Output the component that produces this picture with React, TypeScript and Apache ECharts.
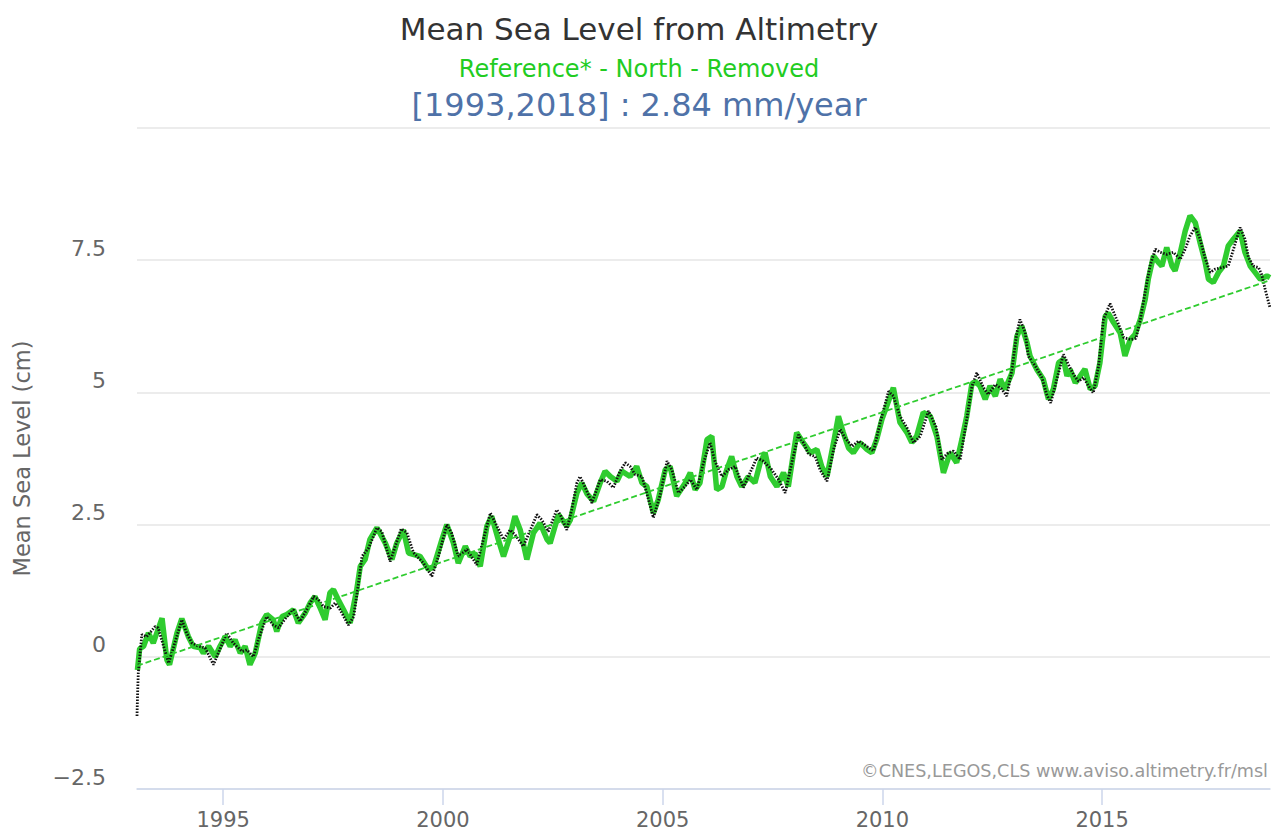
import React, { useEffect, useRef } from "react";
import * as echarts from "echarts";

const titleText = "Mean Sea Level from Altimetry";
const subtitleText = "Reference* - North - Removed";
const rateText = "[1993,2018] : 2.84 mm/year";
const creditText = "©CNES,LEGOS,CLS www.aviso.altimetry.fr/msl";
const yAxisName = "Mean Sea Level (cm)";
const xTickYears = [1995, 2000, 2005, 2010, 2015];

// black dotted series [year, cm]
const blackData: [number, number][] = [
  [1993.04, -1.12], [1993.05, -0.8], [1993.06, -0.53], [1993.07, -0.3], [1993.15, 0.42], [1993.26, 0.38],
  [1993.45, 0.57], [1993.52, 0.55], [1993.76, -0.12], [1994.06, 0.7], [1994.17, 0.45], [1994.29, 0.26],
  [1994.44, 0.2], [1994.59, 0.17], [1994.78, -0.15], [1995.08, 0.45], [1995.23, 0.26], [1995.43, 0.1],
  [1995.54, 0.13], [1995.69, 0.0], [1995.8, 0.32], [1995.99, 0.76], [1996.14, 0.6], [1996.26, 0.55],
  [1996.45, 0.76], [1996.6, 0.89], [1996.75, 0.67], [1996.9, 0.89], [1997.06, 1.14], [1997.17, 1.08],
  [1997.28, 0.95], [1997.44, 0.92], [1997.55, 1.02], [1997.66, 0.89], [1997.85, 0.6], [1997.97, 0.76],
  [1998.08, 1.39], [1998.16, 1.9], [1998.31, 2.06], [1998.5, 2.44], [1998.61, 2.37], [1998.8, 1.8],
  [1999.05, 2.42], [1999.18, 2.35], [1999.33, 1.97], [1999.56, 1.77], [1999.75, 1.52], [1999.9, 1.9],
  [2000.09, 2.5], [2000.2, 2.34], [2000.35, 1.9], [2000.55, 2.03], [2000.77, 1.74], [2000.96, 2.34],
  [2001.08, 2.72], [2001.23, 2.47], [2001.38, 2.22], [2001.53, 2.4], [2001.64, 2.31], [2001.83, 2.09],
  [2001.99, 2.4], [2002.14, 2.69], [2002.25, 2.59], [2002.4, 2.37], [2002.59, 2.78], [2002.67, 2.69],
  [2002.82, 2.4], [2002.93, 2.78], [2003.05, 3.29], [2003.12, 3.41], [2003.24, 3.2], [2003.39, 2.91],
  [2003.58, 3.35], [2003.73, 3.32], [2003.88, 3.2], [2004.03, 3.51], [2004.15, 3.67], [2004.26, 3.6],
  [2004.37, 3.45], [2004.53, 3.41], [2004.68, 2.97], [2004.79, 2.63], [2004.94, 3.05], [2005.1, 3.7],
  [2005.21, 3.54], [2005.36, 3.1], [2005.51, 3.22], [2005.63, 3.35], [2005.78, 3.16], [2005.93, 3.67],
  [2006.08, 4.05], [2006.19, 3.7], [2006.35, 3.41], [2006.5, 3.54], [2006.65, 3.6], [2006.84, 3.2],
  [2006.99, 3.48], [2007.14, 3.76], [2007.29, 3.7], [2007.48, 3.54], [2007.64, 3.35], [2007.79, 3.1],
  [2007.94, 3.67], [2008.09, 4.2], [2008.2, 4.05], [2008.32, 3.83], [2008.47, 3.79], [2008.58, 3.54],
  [2008.74, 3.32], [2008.89, 3.92], [2009.04, 4.3], [2009.15, 4.14], [2009.31, 3.98], [2009.46, 4.08],
  [2009.61, 4.0], [2009.8, 3.89], [2009.95, 4.43], [2010.14, 5.02], [2010.25, 4.93], [2010.4, 4.55],
  [2010.56, 4.33], [2010.71, 4.05], [2010.86, 4.17], [2011.05, 4.65], [2011.22, 4.35], [2011.35, 3.73],
  [2011.5, 3.86], [2011.62, 3.89], [2011.77, 3.73], [2011.92, 4.49], [2012.04, 5.12], [2012.15, 5.37],
  [2012.3, 5.09], [2012.41, 4.96], [2012.57, 5.15], [2012.72, 5.06], [2012.83, 4.93], [2012.95, 5.44],
  [2013.06, 6.13], [2013.13, 6.38], [2013.25, 6.13], [2013.32, 5.69], [2013.48, 5.5], [2013.63, 5.28],
  [2013.74, 4.96], [2013.83, 4.8], [2013.97, 5.25], [2014.12, 5.72], [2014.23, 5.53], [2014.35, 5.34],
  [2014.46, 5.21], [2014.58, 5.28], [2014.69, 5.12], [2014.8, 4.99], [2014.92, 5.5], [2015.03, 6.38],
  [2015.18, 6.68], [2015.33, 6.38], [2015.49, 6.04], [2015.64, 6.0], [2015.77, 6.02], [2015.87, 6.38],
  [2015.98, 6.9], [2016.09, 7.39], [2016.21, 7.71], [2016.32, 7.65], [2016.47, 7.61], [2016.62, 7.65],
  [2016.78, 7.52], [2016.89, 7.71], [2017.0, 7.96], [2017.12, 8.12], [2017.23, 7.9], [2017.34, 7.55],
  [2017.46, 7.27], [2017.57, 7.33], [2017.72, 7.36], [2017.87, 7.39], [2017.99, 7.71], [2018.14, 8.12],
  [2018.25, 7.9], [2018.33, 7.55], [2018.44, 7.39], [2018.56, 7.36], [2018.63, 7.23], [2018.71, 6.95],
  [2018.82, 6.6],
];

// green thick series [year, cm]
const greenData: [number, number][] = [
  [1993.05, -0.25], [1993.1, 0.15], [1993.19, 0.2], [1993.3, 0.45], [1993.41, 0.26], [1993.61, 0.73],
  [1993.72, -0.06], [1993.78, -0.15], [1993.95, 0.45], [1994.06, 0.72], [1994.21, 0.38], [1994.32, 0.2],
  [1994.48, 0.17], [1994.55, 0.07], [1994.67, 0.2], [1994.82, 0.0], [1994.93, 0.2], [1995.05, 0.38],
  [1995.16, 0.2], [1995.27, 0.32], [1995.39, 0.07], [1995.5, 0.2], [1995.61, -0.15], [1995.73, 0.07],
  [1995.88, 0.64], [1995.99, 0.8], [1996.14, 0.7], [1996.22, 0.48], [1996.34, 0.76], [1996.45, 0.8],
  [1996.6, 0.89], [1996.71, 0.64], [1996.87, 0.83], [1996.98, 1.02], [1997.09, 1.14], [1997.21, 0.92],
  [1997.32, 0.7], [1997.43, 1.21], [1997.51, 1.27], [1997.62, 1.08], [1997.74, 0.89], [1997.89, 0.64],
  [1998.04, 1.27], [1998.12, 1.71], [1998.23, 1.84], [1998.34, 2.22], [1998.5, 2.44], [1998.69, 2.15],
  [1998.84, 1.84], [1998.95, 2.15], [1999.1, 2.4], [1999.22, 1.96], [1999.48, 1.9], [1999.67, 1.65],
  [1999.79, 1.7], [1999.98, 2.22], [2000.09, 2.5], [2000.24, 2.15], [2000.35, 1.77], [2000.51, 2.09],
  [2000.62, 1.9], [2000.73, 1.96], [2000.85, 1.71], [2001.0, 2.47], [2001.11, 2.66], [2001.26, 2.22],
  [2001.38, 1.9], [2001.53, 2.28], [2001.64, 2.66], [2001.76, 2.4], [2001.91, 1.84], [2002.06, 2.34],
  [2002.21, 2.53], [2002.37, 2.22], [2002.44, 2.15], [2002.63, 2.69], [2002.82, 2.47], [2002.9, 2.59],
  [2003.05, 3.1], [2003.16, 3.29], [2003.28, 3.08], [2003.43, 2.94], [2003.58, 3.29], [2003.69, 3.51],
  [2003.81, 3.41], [2003.96, 3.32], [2004.07, 3.51], [2004.26, 3.41], [2004.41, 3.6], [2004.53, 3.29],
  [2004.64, 3.22], [2004.79, 2.72], [2004.9, 2.97], [2005.06, 3.54], [2005.17, 3.6], [2005.32, 3.04],
  [2005.51, 3.28], [2005.63, 3.48], [2005.74, 3.16], [2005.85, 3.29], [2006.01, 4.11], [2006.12, 4.17],
  [2006.23, 3.16], [2006.35, 3.22], [2006.46, 3.54], [2006.57, 3.79], [2006.69, 3.41], [2006.8, 3.22],
  [2006.95, 3.41], [2007.1, 3.29], [2007.22, 3.67], [2007.33, 3.86], [2007.45, 3.41], [2007.6, 3.22],
  [2007.75, 3.48], [2007.86, 3.22], [2008.05, 4.24], [2008.2, 4.05], [2008.36, 3.86], [2008.51, 3.92],
  [2008.62, 3.6], [2008.74, 3.41], [2008.89, 4.05], [2009.0, 4.55], [2009.11, 4.24], [2009.23, 3.95],
  [2009.34, 3.86], [2009.49, 4.05], [2009.65, 3.92], [2009.76, 3.86], [2009.87, 4.11], [2009.99, 4.49],
  [2010.25, 5.09], [2010.4, 4.43], [2010.56, 4.24], [2010.67, 4.05], [2010.78, 4.17], [2010.93, 4.62],
  [2011.09, 4.55], [2011.24, 4.17], [2011.39, 3.48], [2011.54, 3.86], [2011.69, 3.67], [2011.81, 4.11],
  [2011.92, 4.55], [2012.04, 5.18], [2012.15, 5.18], [2012.22, 5.12], [2012.34, 4.87], [2012.45, 5.12],
  [2012.57, 4.93], [2012.68, 5.25], [2012.79, 5.06], [2012.95, 5.37], [2013.06, 6.06], [2013.17, 6.26],
  [2013.29, 5.94], [2013.36, 5.69], [2013.51, 5.44], [2013.66, 5.25], [2013.78, 4.87], [2013.89, 5.06],
  [2014.01, 5.56], [2014.12, 5.63], [2014.2, 5.31], [2014.27, 5.44], [2014.39, 5.18], [2014.5, 5.31],
  [2014.61, 5.44], [2014.73, 5.06], [2014.84, 5.12], [2014.95, 5.56], [2015.07, 6.44], [2015.14, 6.5],
  [2015.26, 6.32], [2015.41, 6.13], [2015.52, 5.69], [2015.64, 6.0], [2015.75, 6.1], [2015.87, 6.38],
  [2015.98, 6.76], [2016.05, 7.14], [2016.17, 7.58], [2016.28, 7.46], [2016.36, 7.39], [2016.47, 7.74],
  [2016.59, 7.39], [2016.66, 7.3], [2016.78, 7.65], [2016.89, 8.05], [2017.0, 8.34], [2017.12, 8.21],
  [2017.23, 7.83], [2017.34, 7.48], [2017.42, 7.14], [2017.53, 7.08], [2017.65, 7.27], [2017.76, 7.39],
  [2017.87, 7.77], [2017.99, 7.9], [2018.14, 8.05], [2018.25, 7.65], [2018.37, 7.39], [2018.48, 7.27],
  [2018.6, 7.14], [2018.75, 7.2], [2018.82, 7.17],
];

// linear trend end points [year, cm]
const trendData: [number, number][] = [
  [1993.04, -0.17],
  [2018.82, 7.12],
];

const FONT = "'DejaVu Sans', Verdana, sans-serif";
const GREEN = "#2fcc2f";

export default function App() {
  const ref = useRef<HTMLDivElement>(null);
  useEffect(() => {
    if (!ref.current) return;
    const chart = echarts.init(ref.current, null, { renderer: "svg" });
    chart.setOption({
      animation: false,
      backgroundColor: "#ffffff",
      textStyle: { fontFamily: FONT },
      title: [
        {
          text: titleText,
          left: "center",
          top: 8,
          textStyle: { fontFamily: FONT, fontSize: 31, fontWeight: "normal", color: "#333333" },
        },
        {
          text: subtitleText,
          left: "center",
          top: 52,
          textStyle: { fontFamily: FONT, fontSize: 24, fontWeight: "normal", color: "#22cc22" },
        },
        {
          text: rateText,
          left: "center",
          top: 84,
          textStyle: { fontFamily: FONT, fontSize: 32, fontWeight: "normal", color: "#4f72a8" },
        },
        {
          text: creditText,
          right: 5,
          top: 757,
          textStyle: { fontFamily: FONT, fontSize: 17.6, fontWeight: "normal", color: "#999999" },
        },
      ],
      grid: { left: 137, right: 8, top: 128, bottom: 43 },
      xAxis: {
        type: "value",
        min: 1993.04,
        max: 2018.82,
        axisLine: { show: true, onZero: false, lineStyle: { color: "#ccd6eb", width: 1.5 } },
        axisTick: {
          show: true,
          customValues: xTickYears,
          length: 16,
          lineStyle: { color: "#ccd6eb", width: 1.5 },
        },
        axisLabel: {
          customValues: xTickYears,
          color: "#666666",
          fontSize: 21,
          margin: 20,
          fontFamily: FONT,
          formatter: (v: number) => String(v),
        },
        splitLine: { show: false },
      },
      yAxis: {
        type: "value",
        min: -2.5,
        max: 10,
        interval: 2.5,
        name: yAxisName,
        nameLocation: "middle",
        nameGap: 104,
        nameTextStyle: { color: "#666666", fontSize: 22.5, fontFamily: FONT },
        axisLine: { show: false },
        axisTick: { show: false },
        axisLabel: {
          color: "#666666",
          fontSize: 22,
          margin: 31,
          fontFamily: FONT,
          verticalAlign: "bottom",
          padding: [0, 0, 1, 0],
          formatter: (v: number) => (v === 10 ? "" : v < 0 ? "\u2212" + Math.abs(v) : String(v)),
        },
        splitLine: { show: true, lineStyle: { color: "#e6e6e6", width: 1.5 } },
      },
      series: [
        {
          name: "green",
          type: "line",
          data: greenData,
          showSymbol: false,
          lineStyle: { color: GREEN, width: 5.5 },
          z: 2,
        },
        {
          name: "black",
          type: "line",
          data: blackData,
          showSymbol: false,
          lineStyle: { color: "#111111", width: 2.8, type: [1.5, 1.5] },
          z: 3,
        },
        {
          name: "trend",
          type: "line",
          data: trendData,
          showSymbol: false,
          lineStyle: { color: GREEN, width: 1.8, type: [6, 3] },
          z: 4,
        },
      ],
    });
    return () => chart.dispose();
  }, []);
  return <div ref={ref} style={{ position: "fixed", left: 0, top: 0, width: 1278, height: 832 }} />;
}
